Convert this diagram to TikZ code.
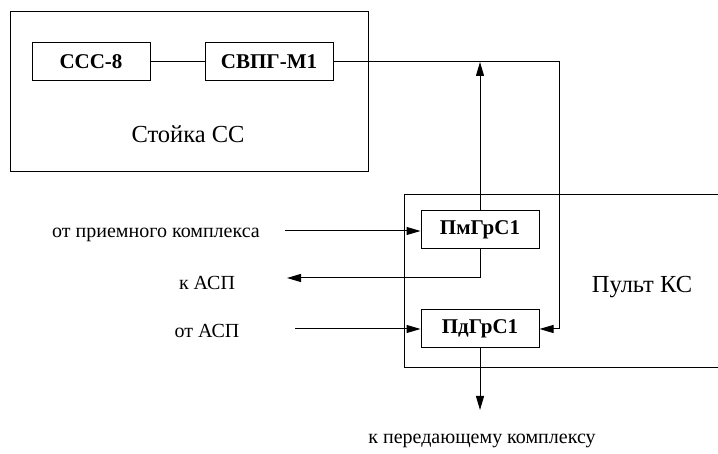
\documentclass[tikz,border=0pt]{standalone}
\usepackage{fontspec}
\setmainfont{Liberation Serif}
\usetikzlibrary{arrows.meta}

\begin{document}
\begin{tikzpicture}[x=1pt,y=-1pt,line width=1pt]
\tikzset{
  block/.style={draw,minimum width=118,minimum height=38,inner sep=0pt,font=\fontsize{21}{24}\selectfont\bfseries},
  lbl/.style={inner sep=0pt,font=\fontsize{20}{23}\selectfont},
  big/.style={inner sep=0pt,font=\fontsize{24.5}{28}\selectfont},
  arr/.style={-{Triangle[length=14pt,width=8pt]}}
}
\useasboundingbox (0,0) rectangle (718,454);
% stand CC
\node[draw,minimum width=358,minimum height=160,inner sep=0pt] (stand) at (189,92) {};
\node[block] (ccc) at (91,62) {ССС-8};
\node[block,minimum width=128] (svpg) at (269,62) {СВПГ-М1};
\node[big] (standlbl) at (188,134) {Стойка СС};
\draw (ccc) -- (svpg);
% console KS
\coordinate (ksa) at (718,195);
\coordinate (ksb) at (404,368);
\coordinate (ksc) at (718,368);
\draw (ksa) -| (ksb) -- (ksc);
\node[block] (pmgrs) at (480,230) {ПмГрС1};
\node[block] (pdgrs) at (480,329) {ПдГрС1};
\node[big] (kslbl) at (642,287) {Пульт КС};
% links
\coordinate (turn) at (559,62);
\draw[arr] (svpg.east) -- (turn) |- (pdgrs.east);
\draw[arr] (pmgrs.north) -- (pmgrs.north |- svpg.east);
\node[lbl] (rx) at (156,235) {от приемного комплекса};
\coordinate (rxend) at (285,231);
\draw[arr] (rxend) -- (pmgrs.west |- rxend);
\node[lbl] (toasp) at (207,283) {к АСП};
\coordinate (toend) at (287,278);
\draw[arr] (pmgrs.south) |- (toend);
\node[lbl] (fromasp) at (207,331) {от АСП};
\coordinate (fromend) at (295,329);
\draw[arr] (fromend) -- (pdgrs.west);
\coordinate (txend) at (480,410);
\draw[arr] (pdgrs.south) -- (txend);
\node[lbl] (tx) at (482,441) {к передающему комплексу};
\end{tikzpicture}
\end{document}
